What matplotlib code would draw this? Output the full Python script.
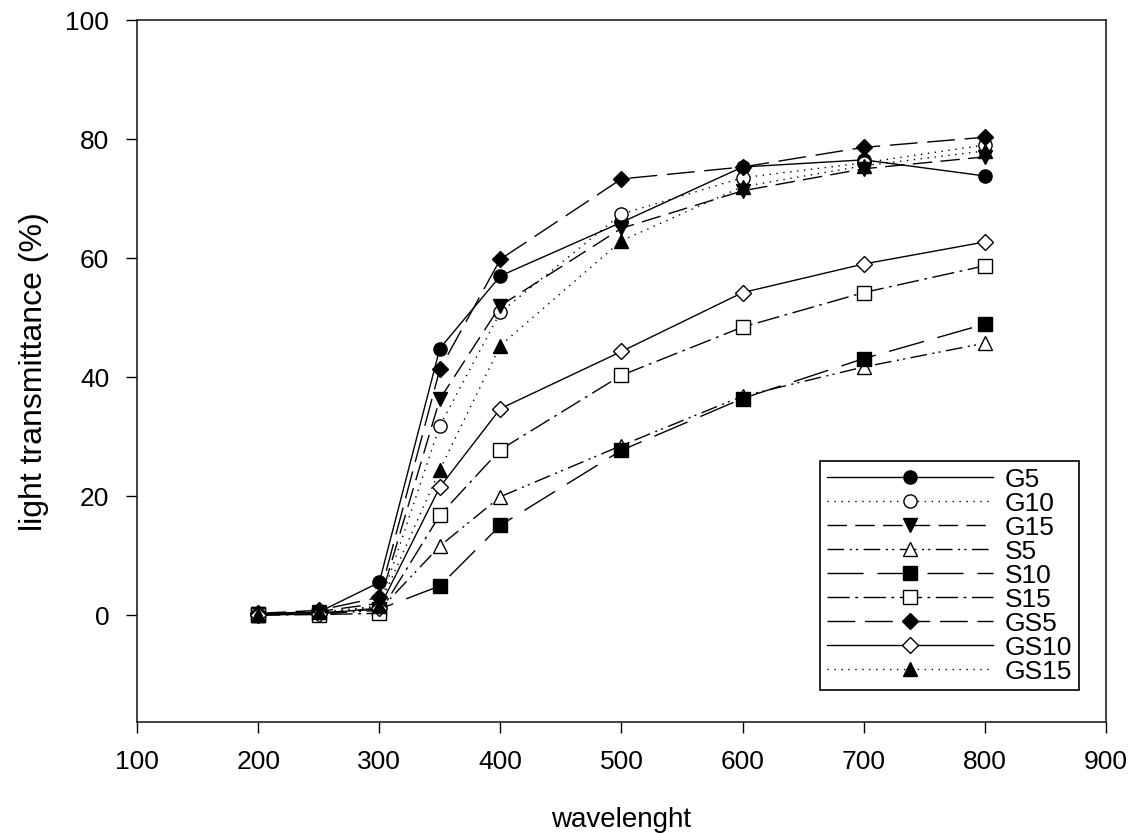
import matplotlib
matplotlib.use('Agg')
import matplotlib.pyplot as plt

plt.rcParams['font.family'] = ['Liberation Sans', 'DejaVu Sans']

# wavelength points
wl = [200, 250, 300, 350, 400, 500, 600, 700, 800]

# light transmittance (%) per sample
G5 = [0.2, 0.5, 5.5, 44.8, 57.0, 66.0, 75.3, 76.5, 73.8]
G10 = [0.1, 0.3, 1.5, 31.8, 50.9, 67.4, 73.5, 76.0, 79.0]
G15 = [0.2, 0.6, 2.0, 36.3, 52.0, 65.0, 71.3, 75.0, 77.0]
S5 = [0.1, 0.2, 0.8, 11.6, 19.9, 28.5, 36.8, 41.7, 45.7]
S10 = [0.2, 0.4, 1.0, 4.9, 15.1, 27.7, 36.4, 43.1, 48.9]
S15 = [0.0, 0.1, 0.3, 16.8, 27.8, 40.3, 48.4, 54.2, 58.7]
GS5 = [0.3, 0.8, 3.0, 41.3, 59.8, 73.3, 75.3, 78.6, 80.3]
GS10 = [0.0, 0.2, 1.2, 21.5, 34.7, 44.3, 54.2, 59.0, 62.7]
GS15 = [0.1, 0.5, 1.5, 24.4, 45.3, 62.9, 72.0, 75.5, 78.0]

series = [
    ('G5', G5, 'o', 'k', '-'),
    ('G10', G10, 'o', 'w', (0, (1, 4))),
    ('G15', G15, 'v', 'k', (0, (14, 6))),
    ('S5', S5, '^', 'w', (0, (12, 4, 1.5, 3, 1.5, 4))),
    ('S10', S10, 's', 'k', (0, (26, 10))),
    ('S15', S15, 's', 'w', (0, (16, 4, 2, 4))),
    ('GS5', GS5, 'D', 'k', (0, (20, 7))),
    ('GS10', GS10, 'D', 'w', '-'),
    ('GS15', GS15, '^', 'k', (0, (1, 4))),
]

fig = plt.figure(figsize=(11.33, 8.34), dpi=100)
ax = fig.add_axes([0.121, 0.134, 0.855, 0.842])

for name, vals, mk, fc, ls in series:
    ms = 8.5 if mk == 'D' else 9.5
    ax.plot(wl, vals, linestyle=ls, color='k', lw=1.0, marker=mk,
            markersize=ms, markerfacecolor=fc, markeredgecolor='k',
            markeredgewidth=1.0, label=name)

ax.set_xlim(100, 900)
ax.set_ylim(-18, 100)
ax.set_xticks(range(100, 901, 100))
ax.set_yticks(range(0, 101, 20))
ax.tick_params(direction='out', length=8, width=1.0, labelsize=19, pad=12)
for sp in ax.spines.values():
    sp.set_linewidth(1.2)
    sp.set_color('#222222')

ax.set_xlabel('wavelenght', fontsize=20, labelpad=24)
ax.set_ylabel('light transmittance (%)', fontsize=23, labelpad=12)

leg = ax.legend(loc='lower right', bbox_to_anchor=(0.972, 0.0456),
                borderaxespad=0, fontsize=19, handlelength=6.3,
                handletextpad=0.45, labelspacing=0.0, borderpad=0.25,
                fancybox=False, framealpha=1, edgecolor='k')
leg.get_frame().set_linewidth(1.2)

fig.savefig('out.png', dpi=100)
